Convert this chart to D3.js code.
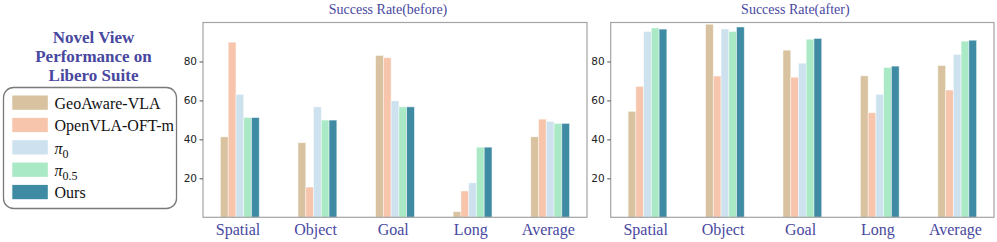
<!DOCTYPE html>
<html>
<head>
<meta charset="utf-8">
<script src="https://cdn.jsdelivr.net/npm/d3@7"></script>
<style>
  body { margin: 0; background: #fff; }
  svg { display: block; }
</style>
</head>
<body>
<svg id="chart" width="997" height="242"></svg>
<script>
var categories = ["Spatial", "Object", "Goal", "Long", "Average"];
var methods = ["GeoAware-VLA", "OpenVLA-OFT-m", "pi0", "pi05", "Ours"];
var methodColors = ["#d8c2a0", "#f7c5ab", "#cde2ee", "#a9e9c5", "#3f8ba3"];
var yTicks = [20, 40, 60, 80];

// success rate before (one array per method, in category order)
var beforeGeo = [41.3, 38.3, 83.1, 2.9, 41.3];
var beforeOpenVLA = [89.9, 15.5, 81.9, 13.5, 50.4];
var beforePi0 = [63.1, 56.7, 59.8, 17.7, 49.2];
var beforePi05 = [51.2, 49.9, 56.7, 36.0, 48.2];
var beforeOurs = [51.2, 49.9, 56.7, 36.0, 48.2];

// success rate after
var afterGeo = [54.4, 99.1, 85.8, 72.6, 77.9];
var afterOpenVLA = [67.2, 72.5, 71.9, 53.7, 65.3];
var afterPi0 = [95.4, 96.7, 79.1, 63.1, 83.6];
var afterPi05 = [97.2, 95.4, 91.4, 76.9, 90.4];
var afterOurs = [96.6, 97.7, 91.8, 77.6, 90.9];

var titleColor = "#4848a0";
var barWidth = 0.1;

var svg = d3.select("#chart");

var plotTop = 22.5, plotBottom = 217.3;

var y = d3.scaleLinear()
    .domain([0, 100])
    .range([plotBottom, plotTop]);

function drawPanel(left, right, title, series) {
    var x = d3.scaleLinear()
        .domain([-0.275, 4.675])
        .range([left, right]);

    var g = svg.append("g").attr("class", "panel");

    // bars
    series.forEach(function (vals, j) {
        g.selectAll(".bar" + j)
            .data(vals)
            .enter()
            .append("rect")
            .attr("class", "bar" + j)
            .attr("x", function (d, i) {
                return x(i + j * barWidth - barWidth / 2);
            })
            .attr("width", function () {
                return x(barWidth) - x(0);
            })
            .attr("y", function (d) {
                return y(d);
            })
            .attr("height", function (d) {
                return y(0) - y(d);
            })
            .style("fill", methodColors[j])
            .style("stroke", "#ffffff")
            .style("stroke-opacity", 0.55)
            .style("stroke-width", 0.8);
    })

    // frame
    g.append("rect")
        .attr("x", left)
        .attr("y", plotTop)
        .attr("width", right - left)
        .attr("height", plotBottom - plotTop)
        .style("fill", "none")
        .style("stroke", "#a4a4a4")
        .style("stroke-width", 1.2);

    // y axis
    var yAxis = d3.axisLeft(y)
        .tickValues(yTicks)
        .tickSize(3.5)
        .tickPadding(2.5);

    var ya = g.append("g")
        .attr("transform", "translate(" + left + ",0)")
        .call(yAxis);
    ya.select(".domain").remove();
    ya.selectAll(".tick line").style("stroke", "#555");
    ya.selectAll(".tick text")
        .style("font-family", "DejaVu Sans, sans-serif")
        .style("font-size", "10.5px")
        .style("fill", "#222");

    // x axis labels
    var xAxis = d3.axisBottom(x)
        .tickValues(d3.range(categories.length).map(function (i) { return i + 0.17; }))
        .tickFormat(function (d, i) { return categories[i]; })
        .tickSize(0)
        .tickPadding(6);

    var xa = g.append("g")
        .attr("transform", "translate(0," + plotBottom + ")")
        .call(xAxis);
    xa.select(".domain").remove();
    xa.selectAll(".tick text")
        .style("font-family", "Liberation Serif, Times New Roman, serif")
        .style("font-size", "16px")
        .style("fill", titleColor);

    // title
    g.append("text")
        .attr("x", (left + right) / 2 - 7)
        .attr("y", 13.5)
        .attr("text-anchor", "middle")
        .style("font-family", "Liberation Serif, Times New Roman, serif")
        .style("font-size", "14px")
        .style("fill", titleColor)
        .text(title);
}

drawPanel(203, 587, "Success Rate(before)",
    [beforeGeo, beforeOpenVLA, beforePi0, beforePi05, beforeOurs]);
drawPanel(610.7, 994, "Success Rate(after)",
    [afterGeo, afterOpenVLA, afterPi0, afterPi05, afterOurs]);

// side title
var sideTitle = ["Novel View", "Performance on", "Libero Suite"];
svg.selectAll(".sideTitle")
    .data(sideTitle)
    .enter()
    .append("text")
    .attr("class", "sideTitle")
    .attr("x", 93.5)
    .attr("y", function (d, i) { return 42.5 + i * 19.3; })
    .attr("text-anchor", "middle")
    .style("font-family", "Liberation Serif, Times New Roman, serif")
    .style("font-weight", "bold")
    .style("font-size", "17px")
    .style("fill", titleColor)
    .text(function (d) { return d; });

// legend
var legend = svg.append("g").attr("class", "legend");

legend.append("rect")
    .attr("x", 3.5)
    .attr("y", 87.5)
    .attr("width", 173)
    .attr("height", 121)
    .attr("rx", 10)
    .style("fill", "#fff")
    .style("stroke", "#7a7a7a")
    .style("stroke-width", 1.3);

var rows = legend.selectAll(".legendRow")
    .data(methods)
    .enter()
    .append("g")
    .attr("class", "legendRow")
    .attr("transform", function (d, i) {
        return "translate(0," + (95.5 + i * 22.35) + ")";
    });

rows.append("rect")
    .attr("x", 12.3)
    .attr("y", 0)
    .attr("width", 35.5)
    .attr("height", 14.3)
    .style("fill", function (d, i) { return methodColors[i]; });

rows.each(function (d, i) {
    var t = d3.select(this).append("text")
        .attr("x", 54.5)
        .attr("y", 13.5)
        .style("font-family", "Liberation Serif, Times New Roman, serif")
        .style("font-size", "16px")
        .style("fill", "#111");
    if (d == "pi0" || d == "pi05") {
        t.append("tspan")
            .style("font-style", "italic")
            .text("\u03c0");
        t.append("tspan")
            .attr("dy", 4)
            .style("font-size", "12px")
            .text(d == "pi0" ? "0" : "0.5");
    } else {
        t.text(d);
    }
});
</script>
</body>
</html>
